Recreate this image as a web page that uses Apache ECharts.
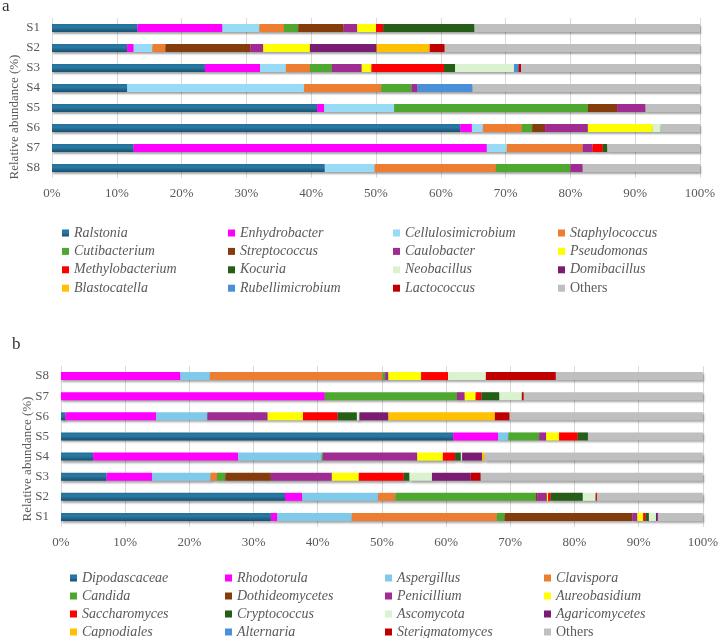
<!DOCTYPE HTML>
<html>
<head>
    <meta charset="utf-8">
    <title>Relative abundance</title>
    <style>
        html, body { margin: 0; padding: 0; background: #fff; }
        #demo { width: 721px; height: 638px; }
    </style>
</head>
<body>
<div id="demo"></div>
<script type="text/javascript" src="https://cdn.jsdelivr.net/npm/echarts@6/dist/echarts.min.js"></script>
<script type="text/javascript">
    // samples, same order in both panels
    var samples = ['S1', 'S2', 'S3', 'S4', 'S5', 'S6', 'S7', 'S8'];
    var xTicks = [0, 10, 20, 30, 40, 50, 60, 70, 80, 90, 100];

    // panel a (bacteria), values S1..S8 in %
    var ralstonia = [13.2, 11.6, 23.6, 11.6, 40.9, 63.0, 12.6, 42.1];
    var enhydrobacter = [13.1, 1.0, 8.5, 0, 1.1, 1.8, 54.5, 0];
    var cellulosimicrobium = [5.7, 2.9, 4.0, 27.3, 10.8, 1.7, 3.1, 7.7];
    var staphylococcus = [3.8, 2.0, 3.7, 11.9, 0, 6.0, 11.7, 18.7];
    var cutibacterium = [2.2, 0, 3.4, 4.7, 29.9, 1.6, 0, 11.5];
    var streptococcus = [7.0, 13.1, 0, 0, 4.5, 2.0, 0, 0];
    var caulobacter = [2.1, 2.0, 4.6, 0.9, 4.4, 6.6, 1.5, 1.9];
    var pseudomonas = [2.9, 7.2, 1.5, 0, 0, 10.0, 0, 0];
    var methylobacterium = [1.1, 0, 11.2, 0, 0, 0, 1.6, 0];
    var kocuria = [14.1, 0, 1.7, 0, 0, 0, 0.7, 0];
    var neobacillus = [0, 0, 9.1, 0, 0, 1.2, 0, 0];
    var domibacillus = [0, 10.3, 0, 0, 0, 0, 0, 0];
    var blastocatella = [0, 8.2, 0, 0, 0, 0, 0, 0];
    var rubellimicrobium = [0, 0, 0.7, 8.5, 0, 0, 0, 0];
    var lactococcus = [0, 2.3, 0.4, 0, 0, 0, 0, 0];
    var othersA = [34.8, 39.4, 27.6, 35.1, 8.4, 6.1, 14.3, 18.1];

    // panel b (fungi), values S1..S8 in %
    var dipodascaceae = [32.7, 34.9, 7.1, 5.0, 61.1, 0.7, 0, 0];
    var rhodotorula = [1.0, 2.7, 7.1, 22.6, 7.0, 14.1, 41.1, 18.6];
    var aspergillus = [11.6, 11.8, 9.1, 13.0, 1.6, 8.0, 0, 4.6];
    var clavispora = [22.6, 2.7, 1.0, 0, 0, 0, 0, 26.9];
    var candida = [1.2, 21.9, 1.3, 0.2, 4.8, 0, 20.6, 0.4];
    var dothideomycetes = [19.9, 0.2, 7.1, 0, 0, 0, 0, 0];
    var penicillium = [0.8, 1.5, 9.5, 14.7, 1.1, 9.4, 1.2, 0.5];
    var aureobasidium = [0.9, 0.2, 4.2, 4.0, 2.0, 5.5, 1.7, 5.1];
    var saccharomyces = [0.4, 0.4, 7.0, 1.9, 2.9, 5.4, 0.9, 4.2];
    var cryptococcus = [0.5, 5.0, 0.9, 0.9, 1.6, 3.0, 2.8, 0];
    var ascomycota = [1.1, 2.0, 3.5, 0.2, 0, 0.4, 3.5, 5.9];
    var agaricomycetes = [0.3, 0, 6.0, 3.1, 0, 4.5, 0, 0];
    var capnodiales = [0, 0, 0, 0.4, 0, 16.6, 0, 0];
    var alternaria = [0, 0, 0, 0, 0, 0, 0, 0];
    var sterigmatomyces = [0, 0.2, 1.6, 0, 0, 2.3, 0.3, 10.9];
    var othersB = [7.0, 16.5, 34.6, 34.0, 17.9, 30.1, 27.9, 22.9];

    var namesA = ['Ralstonia', 'Enhydrobacter', 'Cellulosimicrobium', 'Staphylococcus',
        'Cutibacterium', 'Streptococcus', 'Caulobacter', 'Pseudomonas',
        'Methylobacterium', 'Kocuria', 'Neobacillus', 'Domibacillus',
        'Blastocatella', 'Rubellimicrobium', 'Lactococcus', 'Others'];
    var valuesA = [ralstonia, enhydrobacter, cellulosimicrobium, staphylococcus,
        cutibacterium, streptococcus, caulobacter, pseudomonas,
        methylobacterium, kocuria, neobacillus, domibacillus,
        blastocatella, rubellimicrobium, lactococcus, othersA];

    // trailing space keeps the two "Others" series apart in the legends
    var namesB = ['Dipodascaceae', 'Rhodotorula', 'Aspergillus', 'Clavispora',
        'Candida', 'Dothideomycetes', 'Penicillium', 'Aureobasidium',
        'Saccharomyces', 'Cryptococcus', 'Ascomycota', 'Agaricomycetes',
        'Capnodiales', 'Alternaria', 'Sterigmatomyces', 'Others '];
    var valuesB = [dipodascaceae, rhodotorula, aspergillus, clavispora,
        candida, dothideomycetes, penicillium, aureobasidium,
        saccharomyces, cryptococcus, ascomycota, agaricomycetes,
        capnodiales, alternaria, sterigmatomyces, othersB];

    // first colour is the shaded dark blue, done as a gradient below
    var coloursA = ['blue', '#FF00FF', '#97DBF7', '#ED7D31',
        '#4EA72E', '#843C0C', '#A02B93', '#FFFF00',
        '#FF0000', '#255E16', '#DAF2D0', '#7B1C73',
        '#FFC000', '#4A90D9', '#C00000', '#BFBFBF'];
    var coloursB = ['blue', '#FF00FF', '#7FC9EB', '#ED7D31',
        '#4EA72E', '#843C0C', '#A02B93', '#FFFF00',
        '#FF0000', '#255E16', '#DAF2D0', '#7B1C73',
        '#FFC000', '#4A90D9', '#C00000', '#BFBFBF'];

    var font = '"Liberation Serif", "Times New Roman", serif';
    var grey = '#595959';

    function darkBlue() {
        return new echarts.graphic.LinearGradient(0, 0, 0, 1, [
            { offset: 0, color: '#236F98' },
            { offset: 0.4, color: '#2A7BA4' },
            { offset: 1, color: '#174F71' }
        ]);
    }

    function makeSeries(names, values, colours, idx) {
        var list = [];
        for (var i = 0; i < names.length; i++) {
            list.push({
                name: names[i],
                type: 'bar',
                stack: 'panel' + idx,
                xAxisIndex: idx,
                yAxisIndex: idx,
                barWidth: 8,
                data: values[i],
                itemStyle: {
                    color: colours[i] === 'blue' ? darkBlue() : colours[i],
                    shadowColor: 'rgba(0,0,0,0.35)',
                    shadowBlur: 2,
                    shadowOffsetX: 1,
                    shadowOffsetY: 2
                },
                emphasis: { disabled: true }
            });
        }
        return list;
    }

    // 4 vertical legends per panel, row-major order like the figure
    function makeLegends(names, lefts, top, gap) {
        var out = [];
        for (var c = 0; c < 4; c++) {
            var col = [];
            for (var r = 0; r < 4; r++) col.push(names[r * 4 + c]);
            out.push({
                orient: 'vertical',
                left: lefts[c],
                top: top,
                height: 120,
                padding: 0,
                data: col,
                icon: 'rect',
                itemWidth: 7,
                itemHeight: 7,
                itemGap: gap,
                selectedMode: false,
                itemStyle: { shadowBlur: 0, shadowOffsetX: 0, shadowOffsetY: 0 },
                formatter: function (n) {
                    return n.trim() === 'Others' ? '{o|Others}' : '{i|' + n + '}';
                },
                textStyle: {
                    color: grey,
                    fontFamily: font,
                    fontSize: 14,
                    lineHeight: 14,
                    rich: {
                        i: { fontStyle: 'italic', fontFamily: font, fontSize: 14, color: grey },
                        o: { fontStyle: 'normal', fontFamily: font, fontSize: 14, color: grey }
                    }
                }
            });
        }
        return out;
    }

    function valueAxis(idx) {
        return {
            type: 'value',
            gridIndex: idx,
            min: xTicks[0],
            max: xTicks[xTicks.length - 1],
            interval: xTicks[1] - xTicks[0],
            axisLine: { show: false },
            axisTick: { show: false },
            splitLine: { lineStyle: { color: '#D9D9D9', width: 1 } },
            axisLabel: {
                color: grey, fontFamily: font, fontSize: 13, margin: 9,
                formatter: '{value}%'
            }
        };
    }

    function categoryAxis(idx, inverse) {
        return {
            type: 'category',
            gridIndex: idx,
            inverse: inverse,
            data: samples,
            axisLine: { show: false },
            axisTick: { show: false },
            axisLabel: { color: grey, fontFamily: font, fontSize: 13, margin: 12 }
        };
    }

    var myChart = echarts.init(document.getElementById('demo'), null, { renderer: 'canvas' });
    var option = {
        animation: false,
        backgroundColor: '#fff',
        grid: [
            { left: 52, top: 18, width: 648, height: 160 },
            { left: 61, top: 366, width: 645, height: 161 }
        ],
        xAxis: [valueAxis(0), valueAxis(1)],
        yAxis: [categoryAxis(0, true), categoryAxis(1, false)],
        legend: makeLegends(namesA, [62, 228, 393, 558], 226, 4.4)
            .concat(makeLegends(namesB, [70, 225, 385, 544], 571, 4.0)),
        graphic: [
            { type: 'text', left: 2, top: -2, style: { text: 'a', font: '17px ' + font, fill: '#333' } },
            { type: 'text', left: 12, top: 336, style: { text: 'b', font: '17px ' + font, fill: '#333' } },
            {
                type: 'text', x: 15, y: 117, rotation: Math.PI / 2,
                style: { text: 'Relative abundance (%)', font: '13px ' + font, fill: grey, align: 'center', verticalAlign: 'middle' }
            },
            {
                type: 'text', x: 28, y: 459, rotation: Math.PI / 2,
                style: { text: 'Relative abundance (%)', font: '13px ' + font, fill: grey, align: 'center', verticalAlign: 'middle' }
            }
        ],
        series: makeSeries(namesA, valuesA, coloursA, 0).concat(makeSeries(namesB, valuesB, coloursB, 1))
    };
    myChart.setOption(option);
</script>
</body>
</html>
